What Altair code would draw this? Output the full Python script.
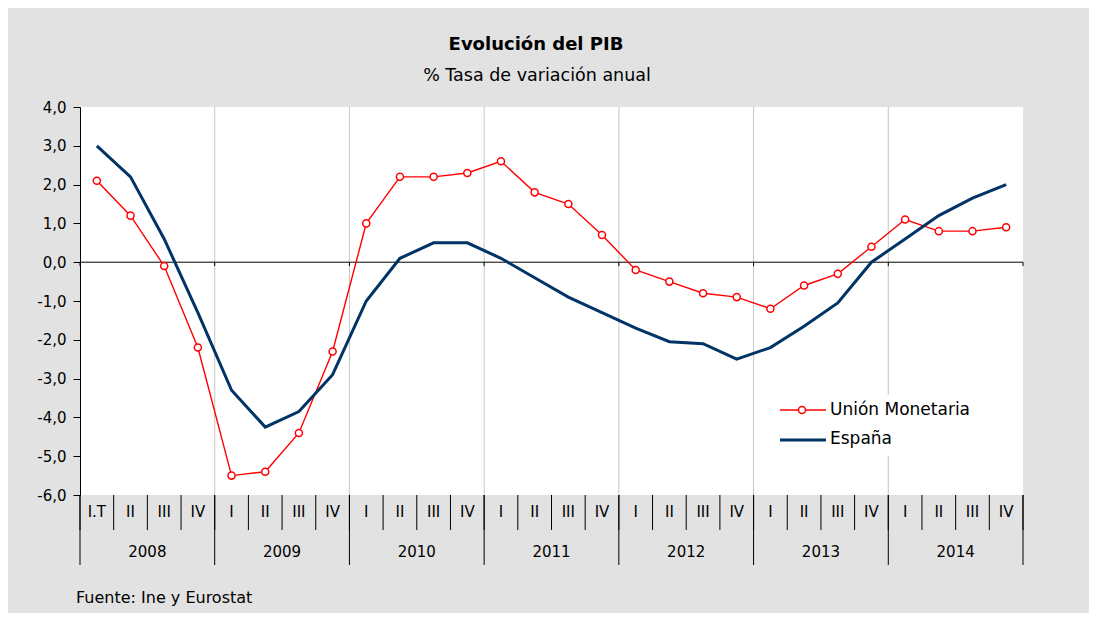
import altair as alt
import pandas as pd

# ---------------- data ----------------
quarters = ["I.T", "II", "III", "IV"] + ["I", "II", "III", "IV"] * 6
years = ["2008", "2009", "2010", "2011", "2012", "2013", "2014"]
union_monetaria = [2.1, 1.2, -0.1, -2.2, -5.5, -5.4, -4.4, -2.3,
                   1.0, 2.2, 2.2, 2.3, 2.6, 1.8, 1.5, 0.7,
                   -0.2, -0.5, -0.8, -0.9, -1.2, -0.6, -0.3, 0.4,
                   1.1, 0.8, 0.8, 0.9]
espana = [3.0, 2.2, 0.6, -1.3, -3.3, -4.25, -3.85, -2.9,
          -1.0, 0.1, 0.5, 0.5, 0.1, -0.4, -0.9, -1.3,
          -1.7, -2.05, -2.1, -2.5, -2.2, -1.65, -1.05, 0.0,
          0.6, 1.2, 1.65, 2.0]
y_ticks = [-6, -5, -4, -3, -2, -1, 0, 1, 2, 3, 4]

n = len(quarters)
df = pd.DataFrame({
    "pos": [i + 0.5 for i in range(n)],
    "quarter": quarters,
    "um": union_monetaria,
    "es": espana,
})
years_df = pd.DataFrame({"year": years, "center": [4 * k + 2 for k in range(len(years))]})
q_bounds = pd.DataFrame({"b": list(range(n + 1))})
y_bounds = pd.DataFrame({"b": [4 * k for k in range(len(years) + 1)]})
grid_bounds = pd.DataFrame({"b": [4 * k for k in range(1, len(years))]})

FONT = "DejaVu Sans"
W, H = 943, 388
xs = alt.Scale(domain=[0, n], nice=False, zero=False)
ys = alt.Scale(domain=[-6, 4], nice=False, zero=False)

yaxis = alt.Axis(values=y_ticks, title=None, grid=False, domainColor="black",
                 tickColor="black", tickSize=7, labelPadding=7,
                 labelFont=FONT, labelFontSize=15, labelColor="black",
                 labelExpr="replace(replace(format(datum.value, '.1f'), '.', ','), '\u2212', '-')")


def X(f):
    return alt.X(f, type="quantitative", scale=xs, axis=None)


def Y(f):
    return alt.Y(f, type="quantitative", scale=ys, axis=yaxis)


# year gridlines
grid = alt.Chart(grid_bounds).mark_rule(color="#c6c6c6", strokeWidth=1).encode(x=X("b"))

# zero line and small ticks on it
zero_line = alt.Chart(pd.DataFrame({"v": [0]})).mark_rule(color="black", strokeWidth=1).encode(y=Y("v"))
zero_ticks = alt.Chart(y_bounds.assign(y0=0.0, y1=-0.1)).mark_rule(color="black", strokeWidth=1).encode(
    x=X("b"), y=Y("y0"), y2="y1:Q")

# series
um_line = alt.Chart(df).mark_line(color="#ff0000", strokeWidth=1.4).encode(x=X("pos"), y=Y("um"))
um_pts = alt.Chart(df).mark_point(shape="circle", filled=True, fill="white", stroke="#ff0000",
                                  strokeWidth=1.5, size=50, opacity=1).encode(x=X("pos"), y=Y("um"))
es_line = alt.Chart(df).mark_line(color="#003366", strokeWidth=3).encode(x=X("pos"), y=Y("es"))

# bottom category band
q_sep = alt.Chart(q_bounds).mark_rule(color="black", strokeWidth=1).encode(
    x=X("b"), y=alt.value(H), y2=alt.value(H + 35))
y_sep = alt.Chart(y_bounds).mark_rule(color="black", strokeWidth=1).encode(
    x=X("b"), y=alt.value(H), y2=alt.value(H + 70))
q_text = alt.Chart(df).mark_text(font=FONT, fontSize=15, color="black", baseline="middle").encode(
    x=X("pos"), y=alt.value(H + 17), text="quarter:N")
y_text = alt.Chart(years_df).mark_text(font=FONT, fontSize=15, color="black", baseline="middle").encode(
    x=X("center"), y=alt.value(H + 57), text="year:N")


# titles and source
def label(txt, x, y, size, bold=False, align="center"):
    return alt.Chart(pd.DataFrame({"t": [txt]})).mark_text(
        font=FONT, fontSize=size, fontWeight="bold" if bold else "normal",
        color="black", align=align, baseline="middle").encode(
        x=alt.value(x), y=alt.value(y), text="t:N")


title = label("Evolución del PIB", 456, -62, 18, bold=True)
subtitle = label("% Tasa de variación anual", 457, -31, 17.5)
source = label("Fuente: Ine y Eurostat", -4, 491, 16, align="left")

# legend
one = pd.DataFrame({"a": [0]})
leg_box = alt.Chart(one).mark_rect(color="white").encode(
    x=alt.value(694), x2=alt.value(905), y=alt.value(288), y2=alt.value(349))
leg_um_line = alt.Chart(one).mark_rule(color="#ff0000", strokeWidth=1.4).encode(
    x=alt.value(700), x2=alt.value(746), y=alt.value(303))
leg_um_pt = alt.Chart(one).mark_point(shape="circle", filled=True, fill="white", stroke="#ff0000",
                                      strokeWidth=1.5, size=50, opacity=1).encode(
    x=alt.value(722), y=alt.value(303))
leg_es_line = alt.Chart(one).mark_rule(color="#003366", strokeWidth=3).encode(
    x=alt.value(700), x2=alt.value(746), y=alt.value(333))
leg_um_txt = label("Unión Monetaria", 750, 303, 17, align="left")
leg_es_txt = label("España", 750, 332, 17, align="left")

chart = alt.layer(
    grid, zero_line, zero_ticks, um_line, um_pts, es_line,
    q_sep, y_sep, q_text, y_text, title, subtitle, source,
    leg_box, leg_um_line, leg_um_pt, leg_es_line, leg_um_txt, leg_es_txt,
).properties(
    width=W, height=H,
    autosize=alt.AutoSizeParams(type="none"),
    padding={"left": 72, "top": 99, "right": 66, "bottom": 118},
    background="#e2e2e2",
).configure_view(stroke=None, fill="white")

chart.save("out.html", embed_options={"renderer": "svg", "actions": False})
